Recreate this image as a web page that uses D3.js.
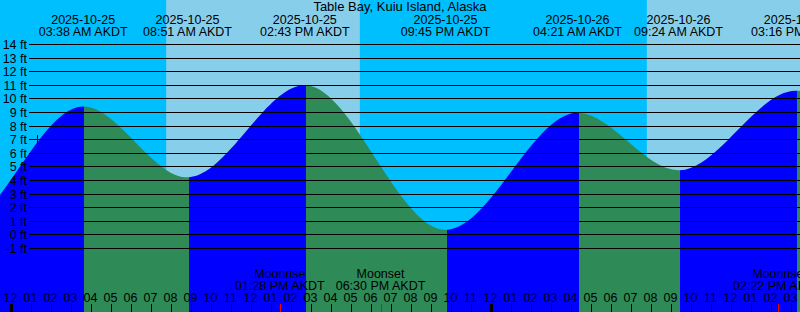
<!DOCTYPE html>
<html lang="en">
<head>
<meta charset="UTF-8">
<title>Table Bay, Kuiu Island, Alaska</title>
<script src="https://d3js.org/d3.v7.min.js"></script>
<style>
    body { margin: 0; }
    svg { display: block; font-family: "Liberation Sans", Arial, sans-serif; }
    text { fill: black; }
</style>
</head>
<body>
<svg width="800" height="312"></svg>
<script>
    // tide events, local AKDT. first two and last two fall off the chart,
    // they are only there so the curve has the right shape at the edges
    let tideTimes = ["2025-10-24T14:20", "2025-10-24T21:05", "2025-10-25T03:38", "2025-10-25T08:51",
        "2025-10-25T14:43", "2025-10-25T21:45", "2025-10-26T04:21", "2025-10-26T09:24",
        "2025-10-26T15:16", "2025-10-26T22:20", "2025-10-27T04:50"];
    let tideHeights = [11.2, 0.1, 9.45, 4.23, 11.0, 0.37, 8.98, 4.75, 10.6, 0.7, 9.2];
    let tideShown = [false, false, true, true, true, true, true, true, true, false, false];

    let sunrises = ["2025-10-25T07:47", "2025-10-26T07:49"];
    let sunsets = ["2025-10-25T17:28", "2025-10-26T17:25"];

    let moonTimes = ["2025-10-25T13:28", "2025-10-25T18:30", "2025-10-26T14:22"];
    let moonNames = ["Moonrise", "Moonset", "Moonrise"];

    let footTicks = [-1, 0, 1, 2, 3, 4, 5, 6, 7, 8, 9, 10, 11, 12, 13, 14];
    let nowTime = "2025-10-25T01:20";
    let nowLevel = 7;

    let chartStart = "2025-10-24T23:28:30";
    let chartEnd = "2025-10-26T15:28:30";
    let title = "Table Bay, Kuiu Island, Alaska";

    // times are treated as utc so the browser zone never shifts them
    let parse = d3.utcParse("%Y-%m-%dT%H:%M");
    let parseS = d3.utcParse("%Y-%m-%dT%H:%M:%S");

    let W = 800, H = 312;
    let svg = d3.select('svg');

    let xScale = d3.scaleUtc()
        .domain([parseS(chartStart), parseS(chartEnd)])
        .range([0, W]);
    let yScale = d3.scaleLinear()
        .domain([-1, 14])
        .range([248.5, 44.5]);

    let tides = tideTimes.map(function (t, i) {
        return {t: parse(t), h: tideHeights[i], shown: tideShown[i]};
    });

    // night background, then day
    svg.append('rect').attr('x', 0).attr('y', 0).attr('width', W).attr('height', H)
        .attr('fill', '#00bfff');
    svg.selectAll('rect.day')
        .data(sunrises)
        .enter().append('rect')
        .attr('class', 'day')
        .attr('x', function (d) { return xScale(parse(d)); })
        .attr('y', 0)
        .attr('width', function (d, i) { return xScale(parse(sunsets[i])) - xScale(parse(d)); })
        .attr('height', H)
        .attr('fill', '#87ceeb');

    // water: one area, cut into rising / falling pieces
    let area = d3.area()
        .x(function (d) { return xScale(d.t); })
        .y0(H)
        .y1(function (d) { return yScale(d.h); })
        .curve(d3.curveMonotoneX);

    let defs = svg.append('defs');
    for (let i = 0; i < tides.length - 1; i++) {
        let x0 = Math.round(xScale(tides[i].t)) + 1;
        let x1 = Math.round(xScale(tides[i + 1].t)) + 1;
        defs.append('clipPath').attr('id', 'seg' + i)
            .append('rect')
            .attr('x', x0).attr('y', 0)
            .attr('width', x1 - x0).attr('height', H);
        let rising = tides[i + 1].h > tides[i].h;
        svg.append('path')
            .datum(tides)
            .attr('d', area)
            .attr('clip-path', 'url(#seg' + i + ')')
            .attr('fill', rising ? '#0000ff' : '#2e8b57');
    }

    // foot lines
    svg.selectAll('line.grid')
        .data(footTicks)
        .enter().append('line')
        .attr('class', 'grid')
        .attr('x1', 29).attr('x2', W)
        .attr('y1', function (d) { return Math.floor(yScale(d)) + 0.5; })
        .attr('y2', function (d) { return Math.floor(yScale(d)) + 0.5; })
        .attr('stroke', 'black')
        .attr('stroke-width', 1);
    svg.selectAll('text.ft')
        .data(footTicks)
        .enter().append('text')
        .attr('class', 'ft')
        .attr('x', 27)
        .attr('y', function (d) { return yScale(d) + 4.5; })
        .attr('text-anchor', 'end')
        .style('font-size', '12.5px')
        .text(function (d) { return d + ' ft'; });

    // small mark for the current time
    svg.append('line')
        .attr('x1', Math.round(xScale(parse(nowTime))) + 0.5)
        .attr('x2', Math.round(xScale(parse(nowTime))) + 0.5)
        .attr('y1', yScale(nowLevel) - 4.5)
        .attr('y2', yScale(nowLevel) + 4.5)
        .attr('stroke', 'black');

    // tide event labels on top
    let fmtDate = d3.utcFormat("%Y-%m-%d");
    let fmtTime = d3.utcFormat("%I:%M %p AKDT");
    let shown = tides.filter(function (d) { return d.shown; });
    let evG = svg.selectAll('g.ev')
        .data(shown)
        .enter().append('g')
        .attr('class', 'ev')
        .attr('transform', function (d) { return 'translate(' + xScale(d.t) + ',0)'; })
        .style('font-size', '12.5px')
        .attr('text-anchor', 'middle');
    evG.append('text').attr('y', 24).text(function (d) { return fmtDate(d.t); });
    evG.append('text').attr('y', 35.5).text(function (d) { return fmtTime(d.t); });

    // moon events
    let moonG = svg.selectAll('g.moon')
        .data(moonTimes)
        .enter().append('g')
        .attr('class', 'moon')
        .attr('transform', function (d) { return 'translate(' + xScale(parse(d)) + ',0)'; })
        .style('font-size', '12.5px')
        .attr('text-anchor', 'middle');
    moonG.append('text').attr('y', 278).text(function (d, i) { return moonNames[i]; });
    moonG.append('text').attr('y', 289.5).text(function (d) { return fmtTime(parse(d)); });

    // hour axis along the bottom
    let hours = d3.utcHour.range(xScale.domain()[0], xScale.domain()[1]);
    svg.selectAll('rect.hr')
        .data(hours)
        .enter().append('rect')
        .attr('class', 'hr')
        .attr('x', function (d) { return Math.round(xScale(d)) - (d.getUTCHours() === 0 ? 1 : 0); })
        .attr('y', 304)
        .attr('width', function (d) { return d.getUTCHours() === 0 ? 3 : 1; })
        .attr('height', 8)
        .attr('fill', 'black');
    svg.selectAll('text.hr')
        .data(hours)
        .enter().append('text')
        .attr('class', 'hr')
        .attr('x', function (d) { return xScale(d); })
        .attr('y', 302)
        .attr('text-anchor', 'middle')
        .style('font-size', '12.5px')
        .text(function (d) { return d3.utcFormat("%I")(d); });
    svg.selectAll('rect.mt')
        .data(moonTimes)
        .enter().append('rect')
        .attr('class', 'mt')
        .attr('x', function (d) { return Math.round(xScale(parse(d))); })
        .attr('y', 304)
        .attr('width', 1)
        .attr('height', 8)
        .attr('fill', 'red');

    svg.append('text')
        .attr('x', W / 2)
        .attr('y', 11)
        .attr('text-anchor', 'middle')
        .style('font-size', '13px')
        .text(title);
</script>
</body>
</html>
